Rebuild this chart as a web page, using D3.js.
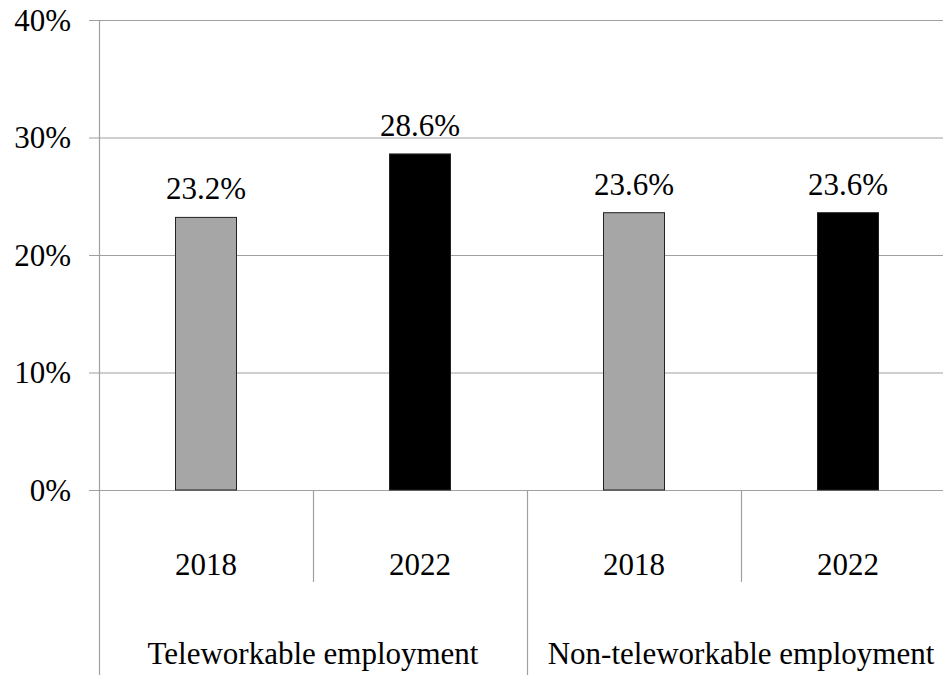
<!DOCTYPE html>
<html>
<head>
<meta charset="utf-8">
<script src="https://cdn.jsdelivr.net/npm/d3@7"></script>
<style>
  body { margin: 0; background: #fff; }
</style>
</head>
<body>
<div id="chart"></div>
<script>
// Data
const groups = ["Teleworkable employment", "Non-teleworkable employment"];
const years = ["2018", "2022"];
const values = [23.2, 28.6, 23.6, 23.6];   // group-major order
const yTicks = [0, 10, 20, 30, 40];
const barColors = { "2018": "#a6a6a6", "2022": "#000000" };

const FONT = "'Liberation Serif', 'Times New Roman', Times, 'DejaVu Serif', 'Nimbus Roman', 'Noto Serif', FreeSerif, Tinos, serif";

document.addEventListener('DOMContentLoaded', () => {
    const W = 943, H = 675;
    const left = 99, top = 20, bottom0 = 490;
    const bandW = 214;

    const svg = d3.select("#chart")
        .append("svg")
        .attr("width", W)
        .attr("height", H)
        .style("display", "block")
        .attr("font-family", FONT)
        .style("font-family", FONT);

    // rows: one per bar
    const rows = [];
    groups.forEach((g, gi) => {
        years.forEach((yr, yi) => {
            rows.push({ group: g, year: yr, key: g + "|" + yr, value: values[gi * years.length + yi] });
        });
    });

    const x = d3.scaleBand()
        .domain(rows.map(d => d.key))
        .range([left, left + bandW * rows.length])
        .paddingInner(0)
        .paddingOuter(0);

    const y = d3.scaleLinear().domain([0, 40]).range([bottom0, top]);

    // Gridlines + y labels
    svg.append("g").selectAll("line")
        .data(yTicks)
        .enter().append("line")
        .attr("x1", left - 10)
        .attr("x2", W)
        .attr("y1", d => y(d) + 0.5)
        .attr("y2", d => y(d) + 0.5)
        .attr("stroke", "#a0a0a0")
        .attr("stroke-width", 1.2);

    svg.append("g").selectAll("text")
        .data(yTicks)
        .enter().append("text")
        .attr("x", 71)
        .attr("y", d => y(d))
        .attr("dy", "0.35em")
        .attr("text-anchor", "end")
        .attr("font-size", 31)
        .style("font-family", FONT)
        .attr("fill", "#000")
        .text(d => d + "%");

    // Y axis line
    svg.append("line")
        .attr("x1", left + 0.5).attr("x2", left + 0.5)
        .attr("y1", top).attr("y2", H)
        .attr("stroke", "#a0a0a0").attr("stroke-width", 1.2);

    // Category separators
    rows.forEach((d, i) => {
        if (i === 0) return;
        const xs = x(d.key);
        const isGroupEdge = i % years.length === 0;
        svg.append("line")
            .attr("x1", xs + 0.5).attr("x2", xs + 0.5)
            .attr("y1", bottom0)
            .attr("y2", isGroupEdge ? H : 582)
            .attr("stroke", "#a0a0a0").attr("stroke-width", 1.2);
    });

    // Bars
    const barW = 61;
    svg.append("g").selectAll("rect")
        .data(rows)
        .enter().append("rect")
        .attr("x", d => x(d.key) + (x.bandwidth() - barW) / 2)
        .attr("width", barW)
        .attr("y", d => y(d.value))
        .attr("height", d => y(0) - y(d.value))
        .attr("fill", d => barColors[d.year])
        .attr("stroke", "#222")
        .attr("stroke-width", 1);

    // Value labels
    svg.append("g").selectAll("text")
        .data(rows)
        .enter().append("text")
        .attr("x", d => x(d.key) + x.bandwidth() / 2)
        .attr("y", d => y(d.value) - 18)
        .attr("text-anchor", "middle")
        .attr("font-size", 31)
        .style("font-family", FONT)
        .text(d => d.value.toFixed(1) + "%");

    // Year labels
    svg.append("g").selectAll("text")
        .data(rows)
        .enter().append("text")
        .attr("x", d => x(d.key) + x.bandwidth() / 2)
        .attr("y", 564)
        .attr("dy", "0.35em")
        .attr("text-anchor", "middle")
        .attr("font-size", 31)
        .style("font-family", FONT)
        .text(d => d.year);

    // Group labels, centred under each pair of bars
    svg.append("g").selectAll("text")
        .data(groups)
        .enter().append("text")
        .attr("x", d => x(d + "|" + years[0]) + x.bandwidth())
        .attr("y", 653)
        .attr("dy", "0.35em")
        .attr("text-anchor", "middle")
        .attr("font-size", 31)
        .style("font-family", FONT)
        .text(d => d);
});
</script>
</body>
</html>
